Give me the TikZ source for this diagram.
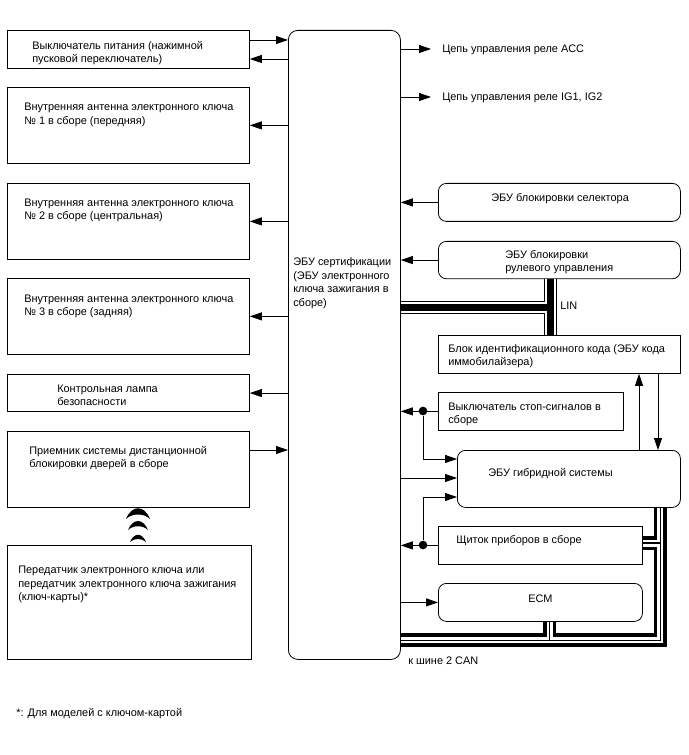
\documentclass[tikz,border=0pt]{standalone}
\usepackage{fontspec}
\setmainfont{Liberation Sans}
\usetikzlibrary{arrows.meta}
\tikzstyle{block}=[draw, semithick, inner sep=0, anchor=north west]
\tikzstyle{round block}=[block, rounded corners=6pt]
\tikzstyle{txt}=[inner sep=0, anchor=west, align=left, yshift=-1.2pt, font=\fontsize{8.2pt}{10.1pt}\selectfont]
\tikzstyle{wire}=[semithick, -{Triangle[length=9pt, width=6pt]}]
\tikzstyle{can wire}=[line width=2.7pt, line join=miter]
\tikzstyle{can thin}=[line width=0.8pt]
\tikzstyle{dot}=[circle, fill=black, inner sep=0, minimum size=6.5pt]

\begin{document}
\begin{tikzpicture}[x=0.75pt, y=-0.75pt]
    \useasboundingbox (0, 0) rectangle (688, 755);

    % left column
    \node[block, minimum width=181.5pt, minimum height=28.5pt] (power) at (7, 30) {};
    \node[block, minimum width=181.5pt, minimum height=57pt] (ant_one) at (7, 87) {};
    \node[block, minimum width=181.5pt, minimum height=57pt] (ant_two) at (7, 183) {};
    \node[block, minimum width=181.5pt, minimum height=57pt] (ant_three) at (7, 278) {};
    \node[block, minimum width=181.5pt, minimum height=28pt] (lamp) at (7, 374) {};
    \node[block, minimum width=181.5pt, minimum height=57pt] (receiver) at (7, 431) {};
    \node[block, minimum width=183pt, minimum height=85.5pt] (transmitter) at (7, 545) {};

    % certification unit
    \node[round block, rounded corners=7pt, minimum width=84pt, minimum height=471.75pt] (cert) at (288, 30) {};

    % right column
    \node[round block, minimum width=181.5pt, minimum height=28.5pt] (selector) at (438, 183) {};
    \node[round block, minimum width=181.5pt, minimum height=28pt] (steering) at (438, 241) {};
    \node[block, minimum width=181.5pt, minimum height=28.5pt] (immo) at (438, 335) {};
    \node[block, minimum width=138.75pt, minimum height=28.5pt] (stop) at (438, 392) {};
    \node[round block, minimum width=167.25pt, minimum height=42.75pt] (hybrid) at (457, 450) {};
    \node[block, minimum width=153pt, minimum height=28.5pt] (meter) at (438, 526) {};
    \node[round block, minimum width=153pt, minimum height=28.5pt] (ecm) at (438, 583) {};

    % texts
    \node[txt] (power_text) at (32, 51.5) {Выключатель питания (нажимной\\пусковой переключатель)};
    \node[txt] (ant_one_text) at (24, 113.5) {Внутренняя антенна электронного ключа\\№ 1 в сборе (передняя)};
    \node[txt] (ant_two_text) at (24, 209) {Внутренняя антенна электронного ключа\\№ 2 в сборе (центральная)};
    \node[txt] (ant_three_text) at (24, 305) {Внутренняя антенна электронного ключа\\№ 3 в сборе (задняя)};
    \node[txt] (lamp_text) at (57, 393.5) {Контрольная лампа\\безопасности};
    \node[txt] (receiver_text) at (29, 456.5) {Приемник системы дистанционной\\блокировки дверей в сборе};
    \node[txt] (transmitter_text) at (18, 583) {Передатчик электронного ключа или\\передатчик электронного ключа зажигания\\(ключ-карты)*};
    \node[txt] (cert_text) at (293, 281.5) {ЭБУ сертификации\\(ЭБУ электронного\\ключа зажигания в\\сборе)};
    \node[txt] (selector_text) at (491, 197) {ЭБУ блокировки селектора};
    \node[txt] (steering_text) at (505, 260.5) {ЭБУ блокировки\\рулевого управления};
    \node[txt] (immo_text) at (448, 354.5) {Блок идентификационного кода (ЭБУ кода\\иммобилайзера)};
    \node[txt] (stop_text) at (448, 413) {Выключатель стоп-сигналов в\\сборе};
    \node[txt] (hybrid_text) at (488, 472) {ЭБУ гибридной системы};
    \node[txt] (meter_text) at (456, 539) {Щиток приборов в сборе};
    \node[txt] (ecm_text) at (528, 597) {ECM};
    \node[txt] (acc_text) at (442, 48) {Цепь управления реле ACC};
    \node[txt] (ig_text) at (442, 96) {Цепь управления реле IG1, IG2};
    \node[txt] (lin_text) at (560, 304) {LIN};
    \node[txt] (can_text) at (408, 659) {к шине 2 CAN};
    \node[txt] (note_text) at (16, 712) {*: Для моделей с ключом-картой};

    % left side wires
    \draw[wire] (power.east |- 0, 40) -- (cert.west |- 0, 40);
    \draw[wire] (cert.west |- 0, 59) -- (power.east |- 0, 59);
    \draw[wire] (cert.west |- ant_one.east) -- (ant_one.east);
    \draw[wire] (cert.west |- ant_two.east) -- (ant_two.east);
    \draw[wire] (cert.west |- ant_three.east) -- (ant_three.east);
    \draw[wire] (cert.west |- lamp.east) -- (lamp.east);
    \draw[wire] (receiver.east |- 0, 450) -- (cert.west |- 0, 450);

    % outgoing relay circuits
    \coordinate (acc_end) at (431, 49);
    \coordinate (ig_end) at (431, 97);
    \draw[wire] (cert.east |- acc_end) -- (acc_end);
    \draw[wire] (cert.east |- ig_end) -- (ig_end);

    % right side wires
    \draw[wire] (selector.west) -- (cert.east |- selector.west);
    \draw[wire] (steering.west) -- (cert.east |- steering.west);
    \draw[wire] (hybrid.north -| 639, 0) -- (immo.south -| 639, 0);
    \draw[wire] (immo.south -| 658, 0) -- (hybrid.north -| 658, 0);
    \draw[wire] (cert.east |- 0, 478) -- (hybrid.west |- 0, 478);
    \draw[wire] (cert.east |- ecm.west) -- (ecm.west);

    % stop switch and meter share the same feed
    \node[dot] (stop_dot) at (423, 411) {};
    \node[dot] (meter_dot) at (423, 545) {};
    \draw[wire] (stop.west) -- (cert.east |- stop.west);
    \draw[wire] (meter.west) -- (cert.east |- meter.west);
    \draw[wire] (stop_dot) |- (hybrid.west |- 0, 459);
    \draw[wire] (meter_dot) |- (hybrid.west |- 0, 497);

    % LIN bus
    \coordinate (lin_corner) at (550.5, 307.5);
    \foreach \w/\c in {9.4/black, 7.8/white, 5/black} {
      \draw[line width=\w pt, \c] (steering.south -| lin_corner) -- (immo.north -| lin_corner);
      \draw[line width=\w pt, \c] (cert.east |- lin_corner) -- (lin_corner);
    }

    % CAN bus
    \draw[can wire] (cert.east |- 0, 635) -| (ecm.south -| 545, 0);
    \draw[can wire] (ecm.south -| 554.5, 0) |- (655.5, 635) |- (meter.east |- 0, 548.5);
    \draw[can wire] (meter.east |- 0, 538) -| (hybrid.south -| 655.5, 0);
    \draw[can wire] (hybrid.south -| 665, 0) |- (cert.east |- 0, 645);
    \draw[can thin] (hybrid.south -| 660.5, 0) |- (cert.east |- 0, 640.5);
    \draw[can thin] (meter.east |- 0, 543) -- (660.5, 543);
    \draw[can thin] (ecm.south -| 549.5, 0) -- (549.5, 640.5);

    % radio waves
    \foreach \y/\s in {519/12, 530/10, 542/8} {
      \fill (138-\s, \y) .. controls (138-0.5*\s, \y-1.2*\s) and (138+0.5*\s, \y-1.2*\s) .. (138+\s, \y)
        .. controls (138+0.5*\s, \y-0.5*\s) and (138-0.5*\s, \y-0.5*\s) .. cycle;
    }
\end{tikzpicture}
\end{document}
